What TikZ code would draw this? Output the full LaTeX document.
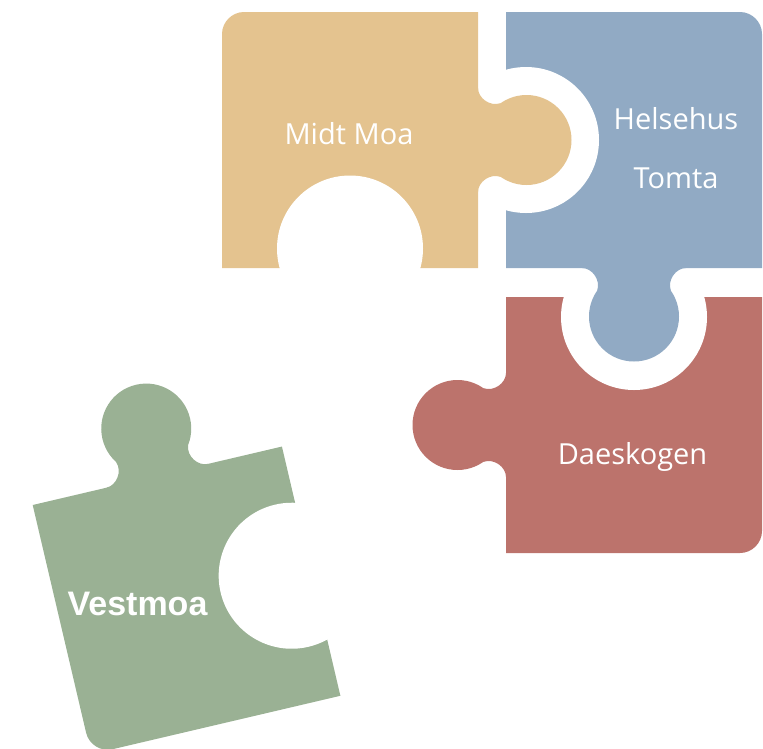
\documentclass[tikz,border=0pt]{standalone}
\usepackage{fontspec}
\newfontfamily\piecefont{Open Sans}
\newfontfamily\vestfont{Liberation Sans}

\definecolor{pcyellow}{HTML}{E4C38F}
\definecolor{pcblue}{HTML}{91AAC4}
\definecolor{pcred}{HTML}{BC736C}
\definecolor{pcgreen}{HTML}{9AB194}

\tikzset{
  % tab of a piece, edge on the x axis, sticking out along +y
  knob/.pic={
    \fill (0,48.5) circle (45);
    \fill (-52,-3) -- (-52,0) .. controls (-42,0) and (-33,12) .. (-36.9,22.7)
          -- (36.9,22.7) .. controls (33,12) and (42,0) .. (52,0) -- (52,-3) -- cycle;
  },
  piecelabel/.style={text=white, anchor=base, inner sep=0pt,
    font=\piecefont\fontsize{29}{58.5}\selectfont},
}

\begin{document}
\begin{tikzpicture}[x=1pt, y=-1pt]
\useasboundingbox (0,0) rectangle (763,748);

% Midt Moa
\begin{scope}[shift={(222,12)}]
  \fill[pcyellow] (0,22) .. controls (0,10) and (10,0) .. (22,0) -- (256,0)
    -- (256,256) -- (0,256) -- cycle;
  \begin{scope}
    \clip (0,0) rectangle (256,270);
    \fill[white] (128,236.5) circle (73);
  \end{scope}
\end{scope}

% Helsehus Tomta
\begin{scope}[shift={(506,12)}]
  \fill[pcblue] (0,0) -- (234,0) .. controls (246,0) and (256,10) .. (256,22)
    -- (256,256) -- (0,256) -- cycle;
  \begin{scope}
    \clip (-14,0) rectangle (256,256);
    \fill[white] (20,128) circle (73);
  \end{scope}
\end{scope}

% Daeskogen
\begin{scope}[shift={(506,297)}]
  \fill[pcred] (0,0) -- (256,0) -- (256,234) .. controls (256,246) and (246,256)
    .. (234,256) -- (0,256) -- cycle;
  \begin{scope}
    \clip (0,-14) rectangle (256,256);
    \fill[white] (128,20) circle (73);
  \end{scope}
\end{scope}

% tabs
\pic[color=pcyellow, rotate=90] at (478,140) {knob};
\pic[color=pcblue] at (634,268) {knob};
\pic[color=pcred, rotate=-90] at (506,425) {knob};

% Vestmoa, tilted
\begin{scope}[shift={(32.7,505)}, rotate=13.2]
  \fill[pcgreen] (0,0) -- (256,0) -- (256,256) -- (22,256)
    .. controls (10,256) and (0,246) .. (0,234) -- cycle;
  \begin{scope}
    \clip (0,0) rectangle (270,256);
    \fill[white] (236,128) circle (73);
  \end{scope}
  \pic[color=pcgreen, rotate=180, transform shape] at (128,0) {knob};
\end{scope}

\node[piecelabel] (midtmoa) at (349,144) {Midt Moa};
\node[piecelabel, align=center] (helsehus) at (676,188) {Helsehus\\Tomta};
\node[piecelabel] (daeskogen) at (632.5,464) {Daeskogen};
\node[piecelabel, font=\vestfont\bfseries\fontsize{34}{40}\selectfont]
  (vestmoa) at (137.5,615) {Vestmoa};
\end{tikzpicture}
\end{document}
